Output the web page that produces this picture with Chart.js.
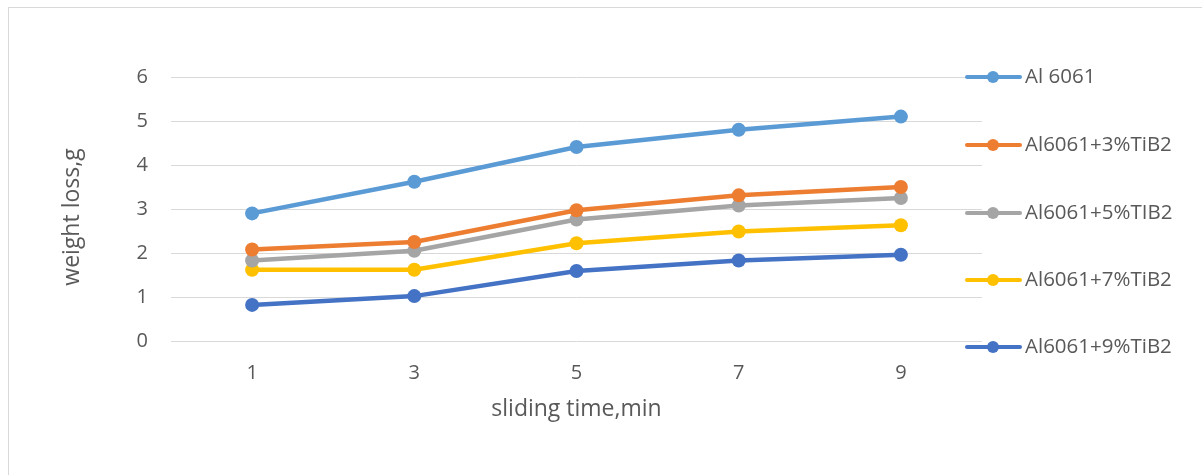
<!DOCTYPE html>
<html>
<head>
<meta charset="utf-8">
<script src="https://cdn.jsdelivr.net/npm/chart.js@4.4.0/dist/chart.umd.min.js"></script>
<style>
  html, body { margin: 0; padding: 0; background: #ffffff; }
  #wrap { position: relative; width: 1202px; height: 475px; overflow: hidden; }
  #frame { position: absolute; left: 8px; top: 7px; right: -4px; bottom: -4px;
           border-left: 1px solid #d9d9d9; border-top: 1px solid #d9d9d9; }
  canvas { position: absolute; left: 0; top: 0; }
</style>
</head>
<body>
<div id="wrap">
  <div id="frame"></div>
  <canvas id="c" width="1202" height="475"></canvas>
</div>
<script>
// sliding time (min)
const categories = ['1', '3', '5', '7', '9'];

// weight loss (g) per material
const al6061   = [2.90, 3.62, 4.41, 4.80, 5.10];
const tib2_3   = [2.08, 2.25, 2.97, 3.31, 3.50];
const tib2_5   = [1.83, 2.05, 2.76, 3.08, 3.25];
const tib2_7   = [1.62, 1.62, 2.22, 2.49, 2.63];
const tib2_9   = [0.82, 1.02, 1.59, 1.83, 1.96];

const seriesNames = ['Al 6061', 'Al6061+3%TiB2', 'Al6061+5%TIB2', 'Al6061+7%TiB2', 'Al6061+9%TiB2'];
const seriesColors = ['#5B9BD5', '#ED7D31', '#A5A5A5', '#FFC000', '#4472C4'];
const seriesValues = [al6061, tib2_3, tib2_5, tib2_7, tib2_9];

const yTicks = [0, 1, 2, 3, 4, 5, 6];
const yTitle = 'weight loss,g';

const textColor = '#595959';
const fontFamily = '"Open Sans", "Noto Sans", sans-serif';

// Legend drawn at the right: line segment with a dot, followed by the label
const sideLegend = {
  id: 'sideLegend',
  afterDraw(chart) {
    const ctx = chart.ctx;
    const rows = [77, 145, 213, 280, 347];
    ctx.save();
    chart.data.datasets.forEach((ds, i) => {
      const y = rows[i];
      ctx.strokeStyle = ds.borderColor;
      ctx.lineWidth = 4;
      ctx.lineCap = 'round';
      ctx.beginPath();
      ctx.moveTo(967, y);
      ctx.lineTo(1020, y);
      ctx.stroke();
      ctx.fillStyle = ds.borderColor;
      ctx.beginPath();
      ctx.arc(993, y, 6, 0, Math.PI * 2);
      ctx.fill();
      ctx.fillStyle = textColor;
      ctx.font = '20.5px ' + fontFamily;
      ctx.textAlign = 'left';
      ctx.textBaseline = 'middle';
      ctx.fillText(ds.label, 1025, y);
    });
    ctx.restore();
  }
};

// Vertical axis title, rotated, sitting slightly below the plot's mid-height
const yAxisTitle = {
  id: 'yAxisTitle',
  afterDraw(chart) {
    const ctx = chart.ctx;
    const area = chart.chartArea;
    ctx.save();
    ctx.translate(72, (area.top + area.bottom) / 2 + 8);
    ctx.rotate(-Math.PI / 2);
    ctx.fillStyle = textColor;
    ctx.font = '23px ' + fontFamily;
    ctx.textAlign = 'center';
    ctx.textBaseline = 'middle';
    ctx.fillText(yTitle, 0, 0);
    ctx.restore();
  }
};

new Chart(document.getElementById('c'), {
  type: 'line',
  data: {
    labels: categories,
    datasets: seriesValues.map((vals, i) => ({
      label: seriesNames[i],
      data: vals,
      borderColor: seriesColors[i],
      backgroundColor: seriesColors[i],
      borderWidth: 4.5,
      pointRadius: 7,
      pointHoverRadius: 7,
      pointBorderWidth: 0,
      tension: 0,
      fill: false
    }))
  },
  options: {
    responsive: false,
    animation: false,
    events: [],
    layout: { padding: { top: 77, right: 220, bottom: 0, left: 0 } },
    plugins: {
      legend: { display: false },
      tooltip: { enabled: false }
    },
    scales: {
      x: {
        type: 'category',
        offset: true,
        grid: { display: false, drawTicks: false },
        border: { display: false },
        ticks: { color: textColor, font: { family: fontFamily, size: 20 }, padding: 20, maxRotation: 0 },
        title: { display: true, text: 'sliding time,min', color: textColor,
                 font: { family: fontFamily, size: 23 }, padding: { top: 0, bottom: 52 } },
        afterFit(scale) { scale.height = 134; }
      },
      y: {
        min: 0,
        max: 6,
        afterBuildTicks(scale) { scale.ticks = yTicks.map(v => ({ value: v })); },
        grid: { color: '#d9d9d9', lineWidth: 1, drawTicks: false },
        border: { display: false },
        ticks: { color: textColor, font: { family: fontFamily, size: 20 }, padding: 23 },
        title: { display: false },
        afterFit(scale) { scale.width = 171; }
      }
    }
  },
  plugins: [sideLegend, yAxisTitle]
});
</script>
</body>
</html>
